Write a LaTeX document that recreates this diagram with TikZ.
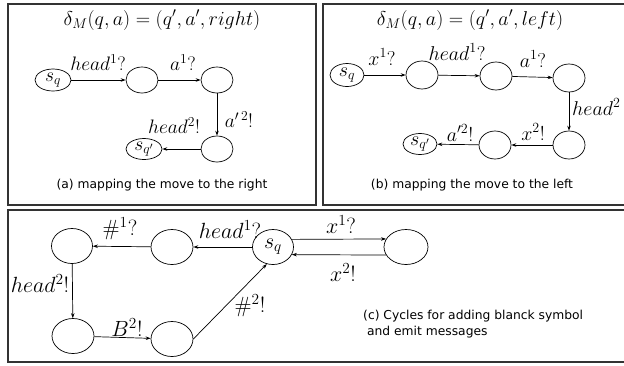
\RequirePackage{fix-cm}
\documentclass[tikz,border=0pt]{standalone}
\usepackage{fontspec}
\usetikzlibrary{shapes.geometric,arrows.meta}
\newfontfamily\capfont{DejaVu Sans}
\begin{document}
\begin{tikzpicture}[x=1pt,y=-1pt,
  st/.style={draw,ellipse,inner sep=0pt,line width=0.7pt},
  fa/.style={font=\fontsize{19.5}{21}\selectfont},
  fb/.style={font=\fontsize{20}{22}\selectfont},
  fc/.style={font=\fontsize{22}{24}\selectfont},
  sa/.style={st,minimum width=32pt,minimum height=26pt},
  sc/.style={st,fc,minimum width=42pt,minimum height=35pt},
  lbl/.style={inner sep=0pt},
  ttl/.style={inner sep=0pt,font=\fontsize{20}{22}\selectfont},
  captxt/.style={inner sep=0pt,font=\capfont\fontsize{12.3}{16}\selectfont},
  conn/.style={draw,line width=0.7pt,-{Stealth[length=5pt,width=3.5pt]}},
  panel/.style={draw=black!80,line width=1.1pt}]
\useasboundingbox (0,0) rectangle (624,365);
\clip (0,0) rectangle (624,365);
% panels
\draw[panel] (8,4) rectangle (316,205);
\draw[panel] (323,4) rectangle (630,205);
\draw[panel] (8,210) rectangle (630,362);

% ---- panel (a)
\node[ttl] (ta) at (162,20) {$\delta_M(q,a)=(q',a',right)$};
\node[st,fa,minimum width=36pt,minimum height=22pt] (a1) at (53,80) {$s_q$};
\node[sa] (a2) at (142,80) {};
\node[sa] (a3) at (217,80) {};
\node[sa] (a4) at (217,149) {};
\node[st,fa,minimum width=36pt,minimum height=21pt] (a5) at (144,149) {$s_{q'}$};
\draw[conn] (a1) -- (a2);
\draw[conn] (a2) -- (a3);
\draw[conn] (a3) -- (a4);
\draw[conn] (a4) -- (a5);
\node[lbl,fa] (la1) at (98,63) {$head^1?$};
\node[lbl,fa] (la2) at (183,63) {$a^1?$};
\node[lbl,fa] (la3) at (239,120) {$a^{\prime\,2}!$};
\node[lbl,fa] (la4) at (174,126) {$head^2!$};
\node[captxt] (ca) at (162,185) {(a) mapping the move to the right};

% ---- panel (b)
\node[ttl] (tb) at (470,20) {$\delta_M(q,a)=(q',a',left)$};
\node[st,fb,minimum width=34pt,minimum height=23pt] (b1) at (347,75) {$s_q$};
\node[sa,minimum height=28pt] (b2) at (422,75) {};
\node[sa,minimum height=28pt] (b3) at (496,76) {};
\node[sa,minimum height=28pt] (b4) at (569,78) {};
\node[sa,minimum height=28pt] (b5) at (569,145) {};
\node[sa,minimum height=28pt] (b6) at (495,145) {};
\node[st,fb,minimum width=34pt,minimum height=21pt] (b7) at (420,144) {$s_{q'}$};
\draw[conn] (b1) -- (b2);
\draw[conn] (b2) -- (b3);
\draw[conn] (b3) -- (b4);
\draw[conn] (b4) -- (b5);
\draw[conn] (b5) -- (b6);
\draw[conn] (b6) -- (b7);
\node[lbl,fb] (lb1) at (382,57) {$x^1?$};
\node[lbl,fb] (lb2) at (457,52) {$head^1?$};
\node[lbl,fb] (lb3) at (533,59) {$a^1?$};
\node[lbl,fb,anchor=west] (lb4) at (572,107) {$head^2$};
\node[lbl,fb] (lb5) at (533,132) {$x^2!$};
\node[lbl,fb] (lb6) at (460,133) {$a'^2!$};
\node[captxt] (cb) at (472,185) {(b) mapping the move to the left};

% ---- panel (c)
\node[sc,minimum width=41pt] (c1) at (72,246) {};
\node[sc] (c2) at (172,247) {};
\node[sc,minimum width=41pt] (c3) at (273,247) {$s_q$};
\node[sc,minimum width=44pt] (c4) at (406,247) {};
\node[sc] (c5) at (73,336) {};
\node[sc] (c6) at (172,339) {};
\draw[conn] (c3) -- (c2);
\draw[conn] (c2) -- (c1);
\draw[conn] (c1) -- (c5);
\draw[conn] (c5) -- (c6);
\draw[conn] (c6.east) -- (c3.250);
\draw[conn] (c3.22) -- (c4.158);
\draw[conn] (c4.202) -- (c3.338);
\node[lbl,fc] (lc1) at (120,229) {$\#^1?$};
\node[lbl,fc] (lc2) at (230,230) {$head^1?$};
\node[lbl,fc] (lc3) at (40,284) {$head^2!$};
\node[lbl,fc] (lc4) at (127,328) {$B^2!$};
\node[lbl,fc] (lc5) at (250,306) {$\#^2!$};
\node[lbl,fc] (lc6) at (341,225) {$x^1?$};
\node[lbl,fc] (lc7) at (343,273) {$x^2!$};
\node[captxt,anchor=north west,align=left] (cc) at (363,310) {(c) Cycles for adding blanck symbol\\\ and emit messages};
\end{tikzpicture}
\end{document}
